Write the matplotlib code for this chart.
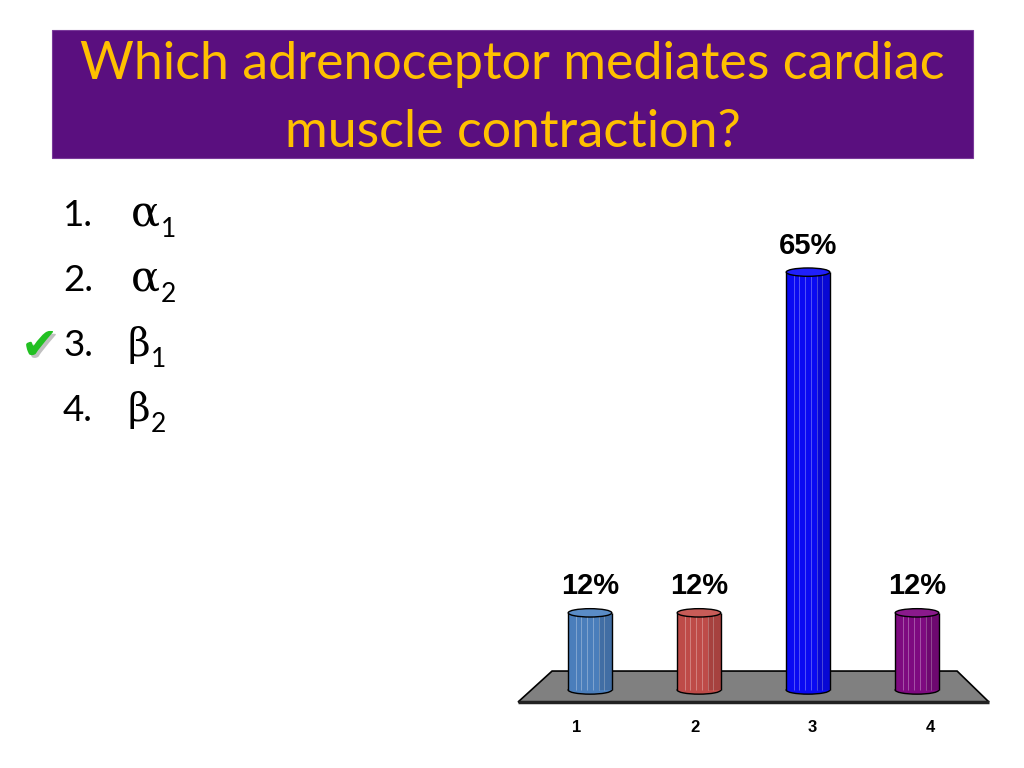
import matplotlib
matplotlib.use("Agg")
import matplotlib.pyplot as plt
import matplotlib.patheffects as pe
from matplotlib.patches import Rectangle, Polygon, Ellipse
import numpy as np

# ---- data ----
title_lines = ["Which adrenoceptor mediates cardiac", "muscle contraction?"]
item_numbers = ["1.", "2.", "3.", "4."]
item_greek = ["α", "α", "β", "β"]
item_subs = ["1", "2", "1", "2"]
correct_item = 2  # index of the checked item
categories = ["1", "2", "3", "4"]
values = [12, 12, 65, 12]
bar_colors = ["#4A7EBB", "#BE4B48", "#0A0AF2", "#7E0A80"]
cap_colors = ["#5A8CC6", "#C85C58", "#2020FA", "#8A1A8C"]

W, H = 1024, 768
fig = plt.figure(figsize=(W / 100, H / 100), dpi=100)
fx = lambda x: x / W
fy = lambda y: 1 - y / H

# ---- title box ----
purple = "#5A0F7F"
fig.patches.append(Rectangle((fx(52), fy(158)), (973 - 52) / W, (158 - 30) / H,
                             transform=fig.transFigure, facecolor=purple,
                             edgecolor="#7A3A9A", linewidth=0.8, zorder=0))
title_font = "Lato"
t1 = fig.text(fx(512.5), fy(79), title_lines[0], ha="center", va="baseline",
              fontsize=34, color="#FFC000", family=title_font)
t2 = fig.text(fx(512.5), fy(147), title_lines[1], ha="center", va="baseline",
              fontsize=34, color="#FFC000", family=title_font)
fig.canvas.draw()
r = fig.canvas.get_renderer()
w1 = t1.get_window_extent(r).width
scale = 868 / w1
for t in (t1, t2):
    t.set_fontsize(34 * scale)

# ---- list ----
row_y0, row_dy = 226, 65
for i in range(len(item_numbers)):
    base = row_y0 + i * row_dy
    fig.text(fx(63), fy(base), item_numbers[i], ha="left", va="baseline",
             fontsize=26.5, color="black", family="Lato")
    gx = 131 if item_greek[i] == "α" else 128
    g = fig.text(fx(gx), fy(base), item_greek[i], ha="left", va="baseline",
                 fontsize=31 if item_greek[i] == "α" else 28, color="black",
                 family="DejaVu Serif")
    fig.canvas.draw()
    gr = g.get_window_extent(fig.canvas.get_renderer()).x1
    fig.text(gr / W + 0.0005, fy(base + 11), item_subs[i], ha="left",
             va="baseline", fontsize=19, color="black", family="Lato")
    if i == correct_item:
        fig.text(fx(21), fy(base + 3), "✔", ha="left", va="baseline",
                 fontsize=32, color="#22C022", family="DejaVu Sans",
                 path_effects=[pe.withSimplePatchShadow(offset=(2, -2),
                                                        shadow_rgbFace="#C0C0C0",
                                                        alpha=1.0)])

# ---- bar chart ----
ax_left, ax_right, ax_bottom, ax_top = 535.5, 971.5, 702, 240
ax = fig.add_axes([fx(ax_left), fy(ax_bottom), (ax_right - ax_left) / W,
                   (ax_bottom - ax_top) / H])
ax.set_xlim(0.5, 4.5)
ax.set_ylim(-1.87, 70)
for s in ax.spines.values():
    s.set_visible(False)
ax.set_yticks([])
ax.set_facecolor("none")

# floor (in axes fraction)
floor = Polygon([(-0.040, 0), (1.040, 0), (0.967, 0.067), (0.038, 0.067)],
                closed=True, transform=ax.transAxes, facecolor="#808080",
                edgecolor="black", linewidth=1.2, clip_on=False, zorder=1)
ax.add_patch(floor)
ax.plot([-0.040, 1.040], [0, 0], transform=ax.transAxes, color="#222222",
        lw=2.5, clip_on=False, zorder=1.5, solid_capstyle="butt")

x = np.arange(1, len(values) + 1)
bw = 0.40
cap_h = 1.3
for xi, v, c, cc in zip(x, values, bar_colors, cap_colors):
    ax.add_patch(Ellipse((xi, 0), bw, cap_h, facecolor=c, edgecolor="black",
                         linewidth=1.0, zorder=2))
    ax.bar(xi, v, width=bw, bottom=0, color=c, edgecolor="none", zorder=3)
    for off in np.linspace(-0.13, 0.13, 6):
        ax.vlines(xi + off, 0, v, colors="white", alpha=0.35,
                  linewidth=0.6, zorder=3.5)
    ax.add_patch(Rectangle((xi + bw * 0.2, 0), bw * 0.3, v, facecolor="black",
                           alpha=0.12, edgecolor="none", zorder=3.6))
    ax.vlines([xi - bw / 2, xi + bw / 2], 0, v, colors="black", linewidth=1.0,
              zorder=4)
    ax.add_patch(Ellipse((xi, v), bw, cap_h, facecolor=cc, edgecolor="black",
                         linewidth=1.0, zorder=5))
    ax.annotate(f"{v}%", (xi, v), xytext=(0, 9), textcoords="offset points",
                ha="center", va="bottom", fontsize=21, fontweight="bold",
                family="Liberation Sans", color="black", zorder=6)

# category labels sit on the front edge of the floor (perspective spread)
center = x.mean()
ax.set_xticks(center + (x - center) * 1.08)
ax.set_xticklabels(categories, fontsize=12, fontweight="bold",
                   family="Liberation Sans")
ax.tick_params(axis="x", length=0, pad=13)

fig.savefig("out.png", dpi=100, facecolor="white")
